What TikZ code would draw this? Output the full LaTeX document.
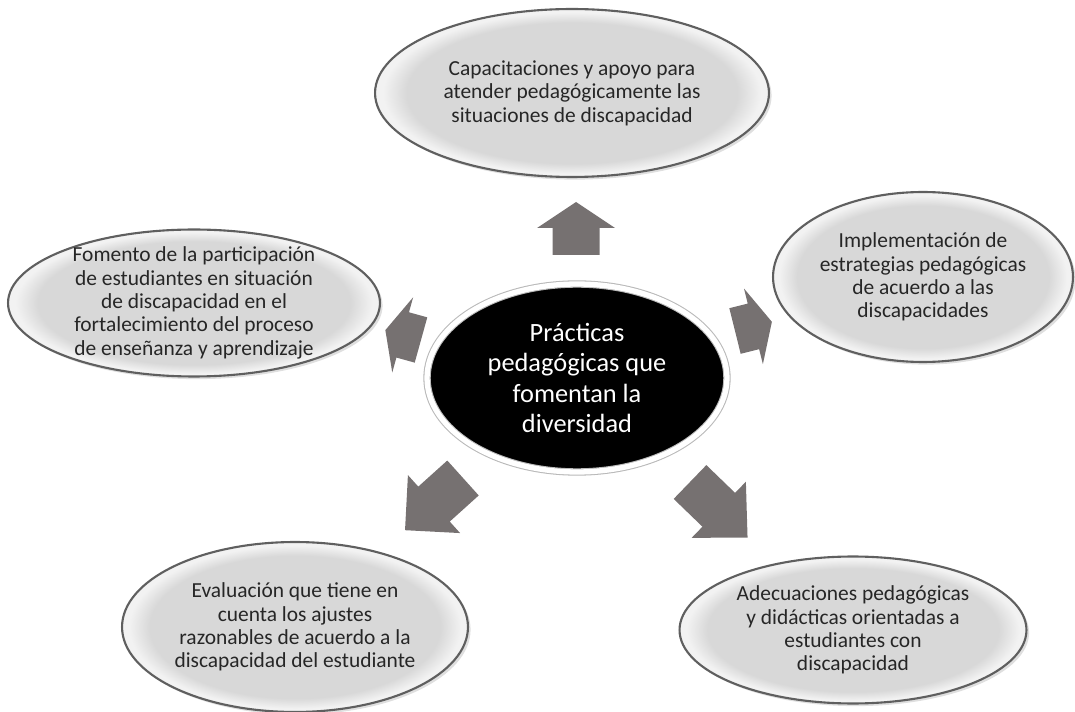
\documentclass[tikz,border=0pt]{standalone}
\usepackage{fontspec}
\setmainfont{Carlito}
\usetikzlibrary{shapes.geometric,shadows}
\definecolor{ellgray}{HTML}{D8D8D8}
\definecolor{ellrim}{HTML}{F2F2F2}
\definecolor{ellline}{HTML}{5F5F5F}
\definecolor{arrgray}{HTML}{767171}
\definecolor{txtgray}{HTML}{262626}
\pgfdeclareradialshading{bevel}{\pgfpoint{0bp}{0bp}}{color(0bp)=(ellgray); color(21bp)=(ellgray); color(24bp)=(ellrim); color(25bp)=(ellrim); color(50bp)=(ellrim)}
\tikzset{%
  % Specifications for style of nodes:
     base/.style = {ellipse, draw=ellline, line width=1.2pt, shading=bevel,
                    text=txtgray, font=\fontsize{12.2}{13.3}\selectfont,
                    align=center, inner xsep=-3mm, inner ysep=-4mm,
                    drop shadow={opacity=0.25, shadow xshift=1.5pt, shadow yshift=-1.5pt}},
      hub/.style = {ellipse, fill=black, draw=gray!55, line width=0.6pt,
                    double=white, double distance=3pt, text=white,
                    font=\fontsize{15}{17.2}\selectfont, align=center,
                    minimum width=6cm, minimum height=3.76cm},
      blk/.style = {fill=arrgray}
}
% block arrow: rear point, angle, length, head length
\newcommand{\blockarrow}[4]{%
  \fill[blk, shift={(#1)}, rotate=#2]
    (0,-23.5) -- (#3-#4,-23.5) -- (#3-#4,-39) -- (#3,0)
    -- (#3-#4,39) -- (#3-#4,23.5) -- (0,23.5) -- cycle;}
\begin{document}
\begin{tikzpicture}[x=0.02cm, y=-0.02cm]
  \useasboundingbox (0,0) rectangle (1075,712);

  % Specification of nodes (position, etc.)
  \node (practicas) [hub] at (577,378) {Prácticas\\pedagógicas que\\fomentan la\\diversidad};
  \node (capacit)   [base, minimum width=7.88cm, minimum height=3.36cm] at (572,93)
        {Capacitaciones y apoyo para\\atender pedagógicamente las\\situaciones de discapacidad};
  \node (estrateg)  [base, minimum width=6cm, minimum height=3.4cm] at (923,277)
        {Implementación de\\estrategias pedagógicas\\de acuerdo a las\\discapacidades};
  \node (fomento)   [base, minimum width=7.44cm, minimum height=2.94cm] at (194,303)
        {Fomento de la participación\\de estudiantes en situación\\de discapacidad en el\\fortalecimiento del proceso\\de enseñanza y aprendizaje};
  \node (evaluac)   [base, minimum width=6.92cm, minimum height=3.4cm] at (295,627)
        {Evaluación que tiene en\\cuenta los ajustes\\razonables de acuerdo a la\\discapacidad del estudiante};
  \node (adecuac)   [base, minimum width=6.94cm, minimum height=2.94cm] at (853,630)
        {Adecuaciones pedagógicas\\y didácticas orientadas a\\estudiantes con\\discapacidad};

  % rear points of the block arrows
  \coordinate (toCapacit)  at (576,255);
  \coordinate (toEstrateg) at (735,331);
  \coordinate (toFomento)  at (421,340);
  \coordinate (toEvaluac)  at (463,478);
  \coordinate (toAdecuac)  at (690,482);

  % block arrows from the centre outwards
  \blockarrow{toCapacit}{90}{53}{26}
  \blockarrow{toEstrateg}{14}{38}{19}
  \blockarrow{toFomento}{164.5}{37}{18}
  \blockarrow{toEvaluac}{222}{78}{39}
  \blockarrow{toAdecuac}{-44}{80}{40}
\end{tikzpicture}
\end{document}
